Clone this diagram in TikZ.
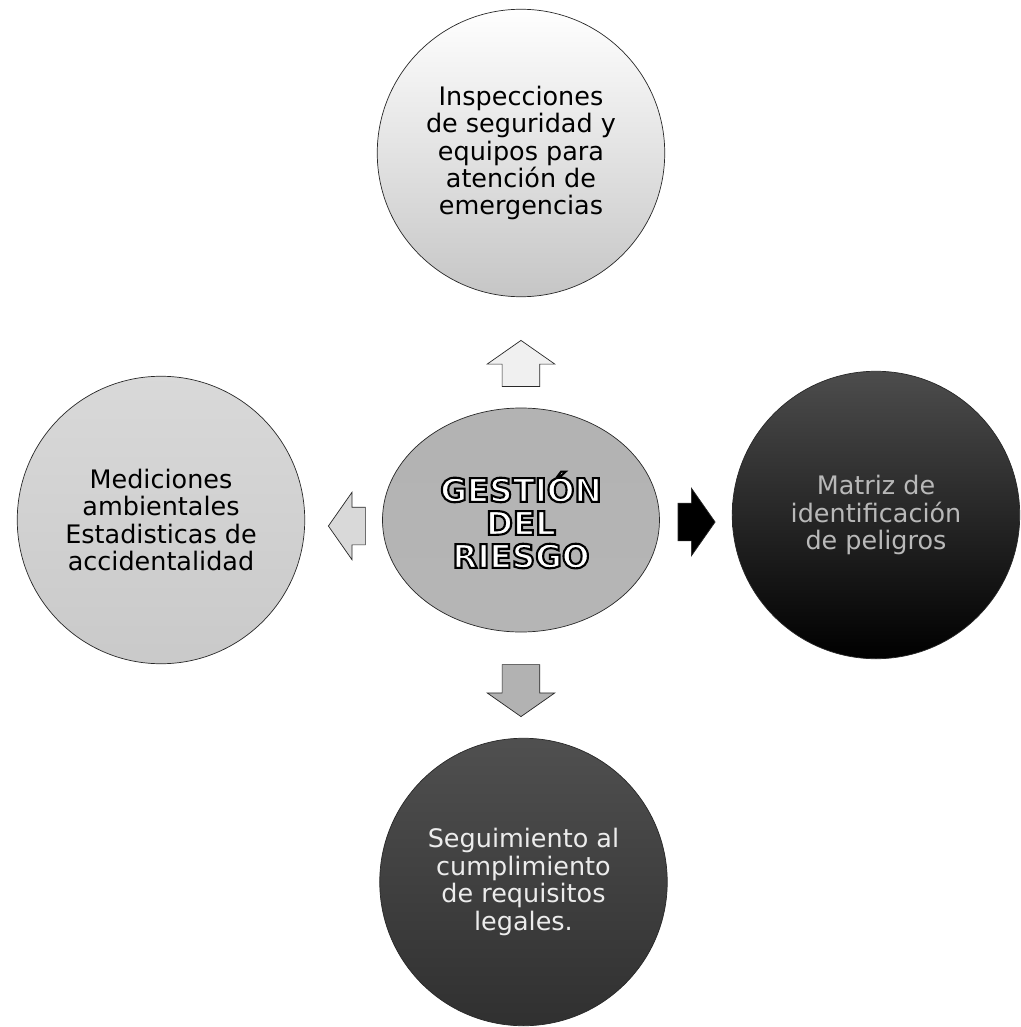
\documentclass[tikz,border=0pt]{standalone}
\usepackage{fontspec}
\setmainfont{DejaVu Sans}
\usetikzlibrary{shapes.geometric,shapes.arrows,positioning}
\definecolor{EdgeGray}{RGB}{40,40,40}
\definecolor{PaleGray}{RGB}{238,238,238}
\definecolor{MidGray}{RGB}{165,165,165}
\definecolor{DarkGray}{RGB}{60,60,60}
% outlined letters: fill white, stroke black
\newcommand{\outlined}[1]{\special{pdf:literal direct 2 Tr 1.2 w 0 0 0 RG}#1\special{pdf:literal direct 0 Tr}}

\begin{document}
\begin{tikzpicture}[
    circ/.style={circle, draw=EdgeGray, thin, minimum size=5.75cm, align=center, font=\fontsize{14.5}{15.6}\selectfont},
    blockarr/.style={single arrow, draw=EdgeGray, thin, inner xsep=0pt, inner ysep=0.37cm, minimum width=1.34cm, single arrow head extend=0.3cm, single arrow tip angle=110}
  ]
    \useasboundingbox (-10.42,10.4) rectangle (10.0,-10.14);
    % centre
    \node[ellipse, draw=EdgeGray, thin, minimum width=5.54cm, minimum height=4.48cm, top color=MidGray!85, bottom color=MidGray!110!black, text=white, align=center,
      font=\fontsize{18.5}{18.8}\selectfont\bfseries] (riesgo) at (0,0) {\outlined{GESTIÓN}\\\outlined{DEL}\\\outlined{RIESGO}};
    % satellites
    \node[circ, top color=white, middle color=PaleGray, bottom color=gray!45] (inspec) at (0,7.34)
      {Inspecciones\\de seguridad y\\equipos para\\atención de\\emergencias};
    \node[circ, top color=gray!30, bottom color=gray!42] (medic) at (-7.2,0)
      {Mediciones\\ambientales\\Estadisticas de\\accidentalidad};
    \node[circ, top color=black!70, middle color=black, bottom color=black, text=gray!55] (matriz) at (7.1,0.1)
      {Matriz de\\identificación\\de peligros};
    \node[circ, top color=DarkGray!90, bottom color=DarkGray!80!black, text=gray!15] (segui) at (0.05,-7.24)
      {Seguimiento al\\cumplimiento\\de requisitos\\legales.};
    % block arrows
    \node[blockarr, fill=gray!12, minimum height=0.92cm, rotate=90] (upArr) at (0,3.0) {};
    \node[blockarr, fill=gray!30, minimum height=0.74cm, rotate=180] (leftArr) at (-3.35,-0.12) {};
    \node[blockarr, fill=black, minimum height=0.74cm] (rightArr) at (3.38,-0.04) {};
    \node[blockarr, fill=gray!60, minimum height=1.04cm, rotate=-90] (downArr) at (0,-3.28) {};
\end{tikzpicture}
\end{document}
